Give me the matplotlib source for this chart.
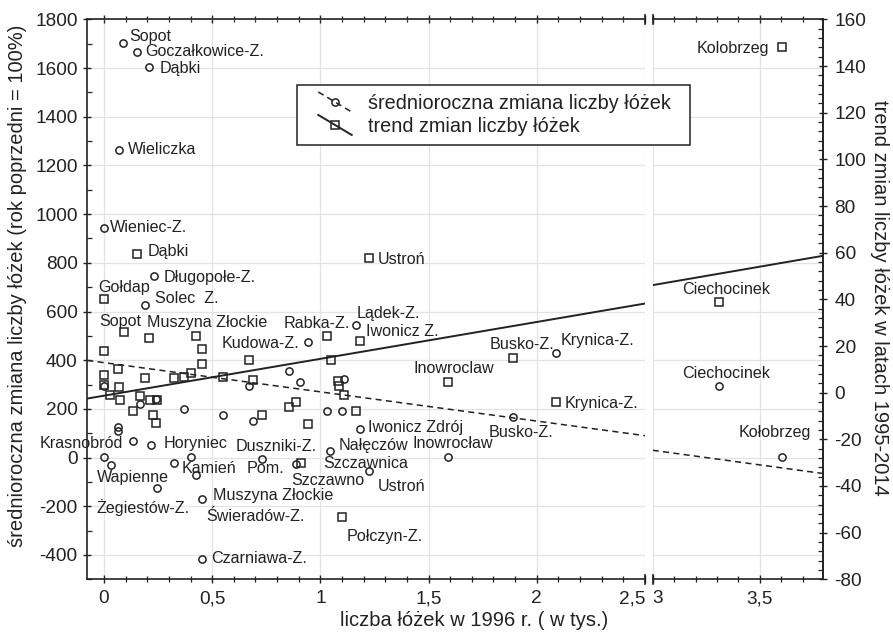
import numpy as np
import matplotlib
matplotlib.use("Agg")
import matplotlib.pyplot as plt
from matplotlib.ticker import MultipleLocator, FuncFormatter, FixedLocator
from matplotlib.lines import Line2D
from matplotlib.legend_handler import HandlerLine2D

plt.rcParams['font.family'] = ['Liberation Sans', 'DejaVu Sans']
plt.rcParams['axes.unicode_minus'] = False

# ---------------- data ----------------
# circles: average annual change of beds (left axis)
circ_x = [0.089, 0.151, 0.208, 0.071, 0.000, 0.229, 0.191, 0.000, 0.168, 0.240,
          0.368, 0.552, 0.065, 0.065, 0.134, 0.217, 0.000, 0.032, 0.324, 0.403,
          0.426, 0.243, 0.454, 0.454, 0.943, 1.166, 0.855, 0.670, 0.907, 1.109,
          1.030, 1.098, 0.689, 1.185, 1.046, 0.731, 0.889, 1.227, 1.889, 1.589,
          2.088, 3.311, 3.603]
circ_y = [1704, 1667, 1606, 1264, 942, 746, 627, 292, 221, 240,
          199, 175, 127, 111, 70, 52, 4, -30, -23, 4,
          -71, -126, -170, -416, 476, 545, 357, 294, 310, 322,
          191, 191, 152, 117, 25, -5, -27, -57, 168, 2,
          429, 294, 4]
# squares: trend of change of beds 1995-2014 (right axis)
sq_x = [3.603, 3.311, 0.154, 1.223, 0.000, 0.091, 0.206, 0.426, 0.452, 0.000,
        0.452, 0.065, 0.000, 0.191, 0.324, 0.368, 0.403, 0.552, 0.000, 0.068,
        0.029, 0.075, 0.168, 0.214, 0.245, 0.133, 0.225, 0.242, 1.030, 1.185,
        0.670, 1.051, 0.689, 1.081, 1.085, 1.109, 0.889, 0.855, 1.166, 0.732,
        0.943, 0.909, 1.101, 1.892, 1.589, 2.088]
sq_y = [148.3, 39.0, 59.5, 57.6, 40.1, 25.8, 23.4, 24.3, 18.6, 18.0,
        12.3, 10.2, 7.6, 6.2, 6.2, 6.6, 8.6, 6.9, 3.3, 2.4,
        -0.9, -3.1, -1.4, -3.1, -3.1, -7.8, -9.5, -12.8, 24.3, 22.2,
        14.1, 14.1, 5.5, 4.8, 2.9, -1.1, -4.2, -6.2, -7.9, -9.4,
        -13.4, -30.0, -53.1, 14.8, 4.5, -4.1]

# linear trend lines (intercept, slope)
circ_trend = (390.0, -120.0)   # left axis units
sq_trend = (-1.3, 15.8)        # right axis units

# point labels: text, x, y (left-axis units)
labels_left = [
    ("Sopot", 0.117, 1729, 'left'), ("Goczałkowice-Z.", 0.189, 1667, 'left'),
    ("Dąbki", 0.258, 1599, 'left'), ("Wieliczka", 0.112, 1264, 'left'),
    ("Wieniec-Z.", 0.028, 946, 'left'), ("Dąbki", 0.200, 846, 'left'),
    ("Długopołe-Z.", 0.274, 741, 'left'), ("Gołdap", -0.026, 700, 'left'),
    ("Solec  Z.", 0.235, 655, 'left'), ("Sopot", -0.022, 559, 'left'),
    ("Muszyna Złockie", 0.200, 554, 'left'), ("Rabka-Z.", 0.831, 549, 'left'),
    ("Kudowa-Z.", 0.543, 470, 'left'), ("Lądek-Z.", 1.166, 593, 'left'),
    ("Iwonicz Z.", 1.212, 517, 'left'), ("Ustroń", 1.266, 815, 'left'),
    ("Busko-Z.", 1.781, 466, 'left'), ("Krynica-Z.", 2.112, 483, 'left'),
    ("Inowroclaw", 1.432, 367, 'left'), ("Krynica-Z.", 2.127, 223, 'left'),
    ("Krasnobród", 0.089, 59, 'right'), ("Horyniec", 0.278, 56, 'left'),
    ("Duszniki-Z.", 0.608, 45, 'left'), ("Iwonicz Zdrój", 1.220, 125, 'left'),
    ("Nałęczów", 1.086, 48, 'left'), ("Inowrocław", 1.427, 56, 'left'),
    ("Busko-Z.", 1.778, 103, 'left'), ("Kamień", 0.359, -44, 'left'),
    ("Pom.", 0.659, -44, 'left'), ("Szczawnica", 1.012, -23, 'left'),
    ("Wapienne", -0.031, -80, 'left'), ("Szczawno", 0.866, -96, 'left'),
    ("Ustroń", 1.266, -119, 'left'), ("Muszyna Złockie", 0.502, -157, 'left'),
    ("Żegiestów-Z.", -0.034, -204, 'left'), ("Świeradów-Z.", 0.474, -242, 'left'),
    ("Połczyn-Z.", 1.123, -324, 'left'), ("Czarniawa-Z.", 0.497, -413, 'left'),
]
labels_right = [
    ("Kolobrzeg", 3.206, 1681), ("Ciechocinek", 3.136, 692),
    ("Ciechocinek", 3.136, 347), ("Kołobrzeg", 3.400, 103),
]

x_ticks_left = [0, 0.5, 1, 1.5, 2, 2.5]
x_ticks_right = [3.0, 3.5]

INK = '#222222'
FS_TICK = 13.7
FS_LAB = 14.5
FS_ANN = 11.6

fig = plt.figure(figsize=(8.93, 6.32), dpi=100)
fig.patch.set_facecolor('white')
axL = fig.add_axes([0.09776, 0.08339, 0.62452, 0.88592])
axR = fig.add_axes([0.73091, 0.08339, 0.19037, 0.88592])
axLr = axL.twinx()
axRr = axR.twinx()

xlims = {'L': (-0.077, 2.5001), 'R': (2.9999, 3.794)}


def fmt_num(v, pos=None):
    return ('%g' % round(v, 6)).replace('.', ',')


for key, ax, tw in [('L', axL, axLr), ('R', axR, axRr)]:
    xl = xlims[key]
    ax.set_xlim(xl)
    ax.set_ylim(-500, 1800)
    tw.set_ylim(-80, 160)
    ax.set_axisbelow(True)
    ax.grid(True, which='major', color='#e3e3e3', lw=0.9)
    ax.plot(circ_x, circ_y, 'o', ms=5.2, mfc='none', mec=INK, mew=1.1, zorder=3)
    tw.plot(sq_x, sq_y, 's', ms=5.6, mfc='none', mec=INK, mew=1.1, zorder=3)
    xs = np.array(xl)
    ax.plot(xs, circ_trend[0] + circ_trend[1] * xs, color=INK, lw=1.1,
            ls=(0, (4.0, 2.8)), zorder=2)
    tw.plot(xs, sq_trend[0] + sq_trend[1] * xs, color=INK, lw=1.4, ls='-', zorder=2)
    tw.set_xlim(xl)
    for s in tw.spines.values():
        s.set_visible(False)
    for s in ax.spines.values():
        s.set_linewidth(1.2)
        s.set_color(INK)
    ax.yaxis.set_major_locator(MultipleLocator(200))
    ax.yaxis.set_minor_locator(MultipleLocator(100))
    ax.xaxis.set_minor_locator(MultipleLocator(0.1))
    ax.xaxis.set_major_formatter(FuncFormatter(fmt_num))
    ax.tick_params(axis='x', which='major', direction='inout', length=6, width=1.0,
                   top=True, bottom=True, labeltop=False, labelsize=FS_TICK,
                   pad=5, colors=INK)
    ax.tick_params(axis='x', which='minor', direction='inout', length=4, width=0.9,
                   top=True, bottom=True, colors=INK)

axL.xaxis.set_major_locator(FixedLocator(x_ticks_left))
axR.xaxis.set_major_locator(FixedLocator(x_ticks_right))
axL.spines['right'].set_visible(False)
axR.spines['left'].set_visible(False)

axL.yaxis.set_major_formatter(FuncFormatter(lambda v, p: '%d' % v))
axL.tick_params(axis='y', which='major', direction='inout', length=6, width=1.0,
                left=True, right=False, labelsize=FS_TICK, pad=4, colors=INK)
axL.tick_params(axis='y', which='minor', direction='in', length=3.5, width=0.9,
                left=True, right=False, colors=INK)
axLr.tick_params(axis='y', which='both', right=False, labelright=False,
                 left=False, labelleft=False)

axR.tick_params(axis='y', which='both', left=False, labelleft=False,
                right=False, labelright=False)
axRr.spines['right'].set_visible(True)
axRr.spines['right'].set_linewidth(1.2)
axRr.spines['right'].set_color(INK)
axRr.yaxis.set_major_locator(MultipleLocator(20))
axRr.yaxis.set_minor_locator(MultipleLocator(4))
axRr.yaxis.set_major_formatter(FuncFormatter(lambda v, p: '%d' % v))
axRr.tick_params(axis='y', which='major', direction='inout', length=6, width=1.0,
                 right=True, labelright=True, labelsize=FS_TICK, pad=5.5, colors=INK)
axRr.tick_params(axis='y', which='minor', direction='in', length=3.5, width=0.9,
                 right=True, colors=INK)

# keep the labels next to the axis break apart
fig.canvas.draw()
axL.xaxis.get_major_ticks()[-1].label1.set_horizontalalignment('right')
axR.xaxis.get_major_ticks()[0].label1.set_horizontalalignment('left')

# break marks on the horizontal spines
for ax, xb in [(axL, 1.0), (axR, 0.0)]:
    for yb in (0.0, 1.0):
        ax.plot([xb, xb], [yb - 0.008, yb + 0.008], transform=ax.transAxes,
                color=INK, lw=1.2, clip_on=False, zorder=5)

# point labels
for txt, x, y, ha in labels_left:
    axL.text(x, y, txt, ha=ha, va='center', fontsize=FS_ANN, color=INK, zorder=6)
for txt, x, y in labels_right:
    axR.text(x, y, txt, ha='left', va='center', fontsize=FS_ANN, color=INK, zorder=6)

# axis titles
fig.text(18 / 893, 1 - 286 / 632,
         'średnioroczna zmiana liczby łóżek (rok poprzedni = 100%)',
         rotation=90, ha='center', va='center', fontsize=FS_LAB, color=INK)
fig.text(880 / 893, 1 - 298 / 632,
         'trend zmian liczby łóżek w latach 1995-2014',
         rotation=270, ha='center', va='center', fontsize=FS_LAB, color=INK)
fig.text(474 / 893, 1 - 621 / 632, 'liczba łóżek w 1996 r. ( w tys.)',
         ha='center', va='center', fontsize=FS_LAB, color=INK)


# legend with diagonal line samples
class DiagHandler(HandlerLine2D):
    def create_artists(self, legend, orig_handle, xdescent, ydescent, width,
                       height, fontsize, trans):
        x0 = -xdescent + width * 0.275
        x1 = -xdescent + width
        yc = -ydescent + height / 2
        dy = 7.2
        line = Line2D([x0, x1], [yc + dy, yc - dy])
        line.update_from(orig_handle)
        line.set_marker('None')
        mk = Line2D([(x0 + x1) / 2], [yc])
        mk.update_from(orig_handle)
        mk.set_linestyle('None')
        line.set_transform(trans)
        mk.set_transform(trans)
        return [line, mk]


h1 = Line2D([], [], color=INK, lw=1.1, ls=(0, (4.0, 2.8)), marker='o', ms=5.2,
            mfc='none', mec=INK, mew=1.1)
h2 = Line2D([], [], color=INK, lw=1.4, ls='-', marker='s', ms=5.6,
            mfc='none', mec=INK, mew=1.1)
leg = fig.legend([h1, h2], ['średnioroczna zmiana liczby łóżek', 'trend zmian liczby łóżek'],
                 loc='upper left', mode='expand',
                 bbox_to_anchor=(296.7 / 893, 1 - 150.7 / 632, (690 - 296.7) / 893,
                                 (150.7 - 85) / 632),
                 bbox_transform=fig.transFigure, borderaxespad=0,
                 fontsize=14.3, handlelength=2.32, handletextpad=0.82,
                 borderpad=0.45, labelspacing=0.2, fancybox=False, framealpha=1,
                 edgecolor=INK, handler_map={Line2D: DiagHandler()})
leg.get_frame().set_linewidth(1.1)
for t in leg.get_texts():
    t.set_color(INK)

fig.savefig('out.png', dpi=100, facecolor='white')
